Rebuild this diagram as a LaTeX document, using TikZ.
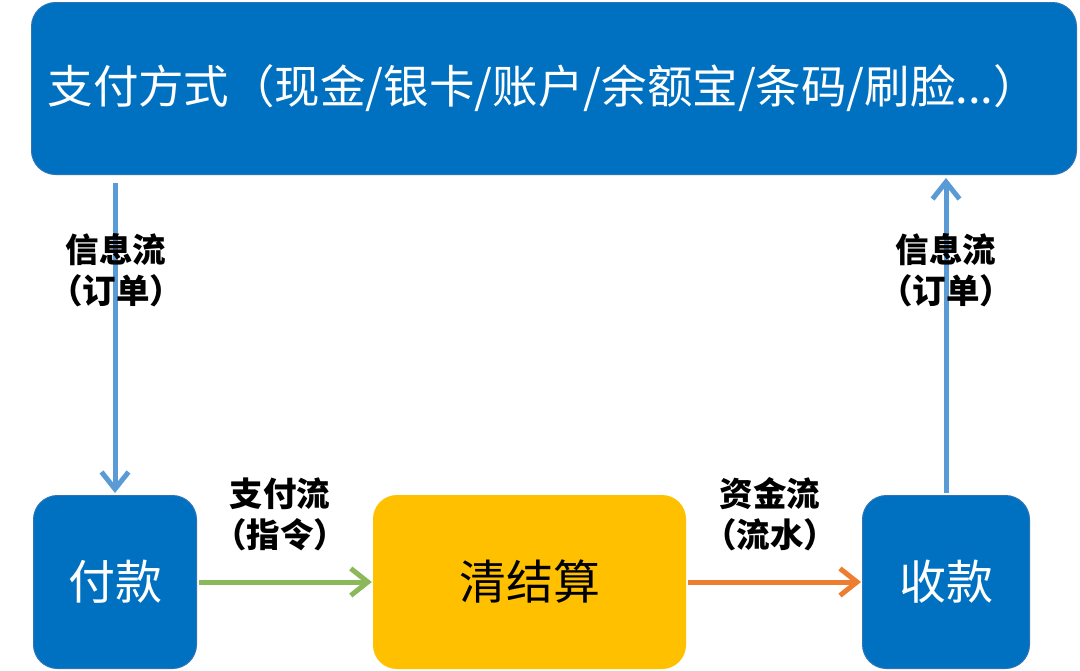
\documentclass[tikz,border=0pt]{standalone}
\usepackage{fontspec}
\setmainfont{Noto Sans CJK SC}
\usetikzlibrary{arrows.meta}
\definecolor{boxblue}{HTML}{0070C0}
\definecolor{edgeblue}{HTML}{2E75B6}
\definecolor{infoblue}{HTML}{5B9BD5}
\definecolor{paygreen}{HTML}{8CB85C}
\definecolor{fundorange}{HTML}{ED7D31}
\definecolor{clearyellow}{HTML}{FFC000}
\tikzset{
  bluebox/.style={draw=edgeblue, line width=1pt, fill=boxblue, rounded corners=24pt,
    text=white, inner sep=0pt, font=\fontsize{47}{50}\selectfont},
  yellowbox/.style={fill=clearyellow, rounded corners=24pt, inner sep=0pt,
    text=black, font=\fontsize{47}{50}\selectfont},
  flowlabel/.style={align=center, text=black, inner sep=0pt,
    font=\bfseries\fontsize{33.5}{41}\selectfont},
  flowarrow/.style={line width=5pt, -{Straight Barb[length=17pt,width=27pt,line width=5pt]}},
}
\begin{document}
\begin{tikzpicture}[x=1pt,y=-1pt]
\useasboundingbox (0,0) rectangle (1080,670);
\fill[white] (0,0) rectangle (1080,670);
% top box
\node[bluebox, minimum width=1045pt, minimum height=172pt, text width=1013pt, align=left,
  font=\fontsize{45.5}{50}\selectfont]
  (top) at (554,88.5) {支付方式（现金/银卡/账户/余额宝/条码/刷脸...）};
% bottom boxes
\node[bluebox, minimum width=163pt, minimum height=173pt] (pay) at (115,582) {付款};
\node[yellowbox, minimum width=313pt, minimum height=174pt] (clear) at (529.5,582) {清结算};
\node[bluebox, minimum width=167pt, minimum height=173pt] (recv) at (946,582) {收款};
% connectors
\draw[flowarrow, draw=infoblue] ([yshift=-8pt]top.south -| pay.north) -- ([yshift=2pt]pay.north);
\draw[flowarrow, draw=infoblue] ([yshift=2pt]recv.north) -- ([yshift=-3pt]top.south -| recv.north);
\draw[flowarrow, draw=paygreen] ([xshift=2pt]pay.east) -- ([xshift=-1pt]clear.west);
\draw[flowarrow, draw=fundorange] ([xshift=2pt]clear.east) -- ([xshift=-1pt]recv.west);
% labels
\node[flowlabel] (l1) at (116,270) {信息流\\（订单）};
\node[flowlabel] (l2) at (946,270) {信息流\\（订单）};
\node[flowlabel] (l3) at (280,514) {支付流\\（指令）};
\node[flowlabel] (l4) at (770,514) {资金流\\（流水）};
\end{tikzpicture}
\end{document}
